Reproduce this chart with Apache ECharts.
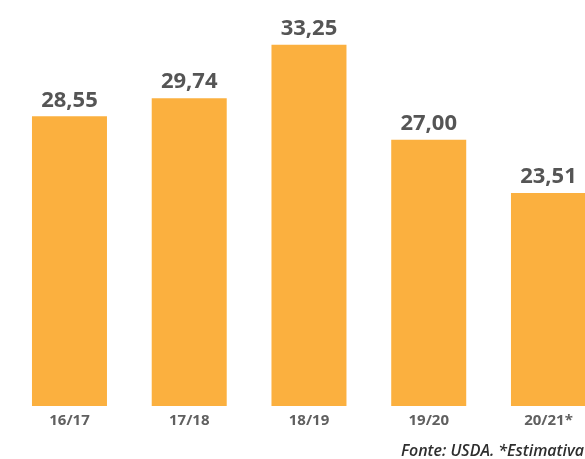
<!DOCTYPE html>
<html>
<head>
<meta charset="utf-8">
<script src="https://cdn.jsdelivr.net/npm/echarts@6/dist/echarts.min.js"></script>
<style>
  html, body { margin: 0; padding: 0; background: #fff; }
  #chart { width: 585px; height: 459px; }
</style>
</head>
<body>
<div id="chart"></div>
<script>
  // safras e valores
  var categories = ['16/17', '17/18', '18/19', '19/20', '20/21*'];
  var values = [28.55, 29.74, 33.25, 27.00, 23.51];
  var sourceText = 'Fonte: USDA. *Estimativa';

  // ultima barra sai do quadro, por isso eixo x numerico
  var barData = values.map(function (v, i) { return [i, v]; });
  var labelPos = categories.map(function (c, i) { return i; });

  var myChart = echarts.init(document.getElementById('chart'));
  myChart.setOption({
    animation: false,
    grid: { left: 9.6, right: 0, top: 3, bottom: 53 },
    graphic: [{
      type: 'text',
      right: 1,
      top: 443,
      style: {
        text: sourceText,
        font: 'italic 600 16px "Open Sans"',
        fill: '#2e2e2e'
      }
    }],
    xAxis: {
      type: 'value',
      min: -0.5,
      max: 4.305,
      axisLine: { show: false },
      axisTick: { show: false },
      splitLine: { show: false },
      axisLabel: {
        customValues: labelPos,
        margin: 7,
        color: '#606060',
        fontFamily: 'Open Sans',
        fontWeight: 'bold',
        fontSize: 15,
        formatter: function (v) { return categories[v]; }
      }
    },
    yAxis: {
      type: 'value',
      min: 9.5,
      max: 36,
      show: false,
      splitLine: { show: false }
    },
    series: [{
      type: 'bar',
      data: barData,
      barWidth: 75,
      itemStyle: { color: '#FBB03F' },
      label: {
        show: true,
        position: 'top',
        distance: 5,
        color: '#555',
        fontFamily: 'Open Sans',
        fontWeight: 'bold',
        fontSize: 22,
        formatter: function (p) {
          return p.value[1].toFixed(2).replace('.', ',');
        }
      }
    }]
  });
</script>
</body>
</html>
